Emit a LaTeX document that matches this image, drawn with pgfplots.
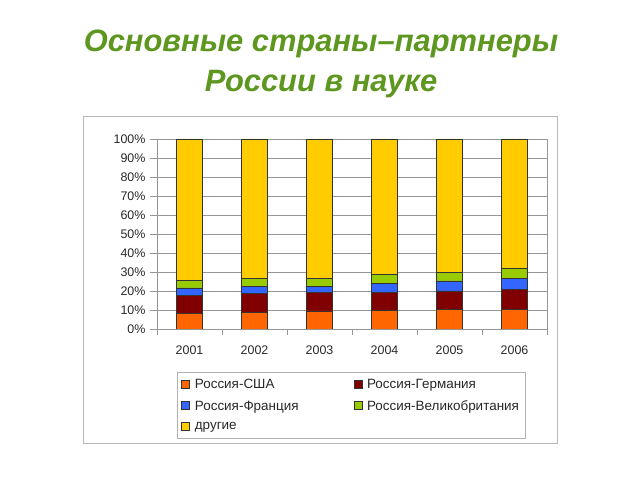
\documentclass[border=0pt]{standalone}
\usepackage{pgfplots}
\pgfplotsset{compat=1.18}
\usepackage{fontspec}
\setmainfont{Liberation Sans}
\definecolor{titlegreen}{RGB}{94,151,32}
\definecolor{cUS}{RGB}{255,102,0}
\definecolor{cDE}{RGB}{128,0,0}
\definecolor{cFR}{RGB}{51,102,255}
\definecolor{cUK}{RGB}{153,204,0}
\definecolor{cOT}{RGB}{255,204,0}
\definecolor{gridgray}{RGB}{150,150,150}
\definecolor{txt}{RGB}{40,40,40}
\begin{document}
\begin{tikzpicture}[x=1bp,y=1bp]
\path (0,0) rectangle (640,480);
\node[anchor=base,text=titlegreen,font=\fontsize{31}{33}\selectfont\bfseries\itshape] at (321,428) {Основные страны–партнеры};
\node[anchor=base,text=titlegreen,font=\fontsize{31}{33}\selectfont\bfseries\itshape] at (321,388) {России в науке};
\draw[gray!55,line width=0.8bp] (83,37) rectangle (557,364);
\begin{axis}[
  at={(157bp,151bp)}, anchor=south west,
  scale only axis, width=390bp, height=190bp,
  ybar stacked, bar width=26bp,
  xmin=-0.5, xmax=5.5, ymin=0, ymax=100,
  xtick={0,...,5},
  xticklabels={2001,2002,2003,2004,2005,2006},
  minor xtick={-0.5,0.5,...,5.5},
  ytick={0,10,...,100},
  yticklabel={\pgfmathprintnumber{\tick}\%},
  /pgf/number format/assume math mode=true,
  ticklabel style={font=\fontsize{12.5}{14}\selectfont, text=txt},
  tick align=outside, tick pos=left,
  major tick length=7bp, minor tick length=6bp,
  major x tick style={draw=none},
  tick style={gridgray, line width=0.6bp},
  axis line style={gridgray, line width=0.8bp},
  ymajorgrids, grid style={gridgray, line width=0.6bp},
  xticklabel style={yshift=-6bp},
  yticklabel style={xshift=-1bp},
  every axis plot/.append style={draw=black!80, line width=0.5bp},
  legend style={at={(0.0513,-0.226)}, anchor=north west, draw=gray!60, line width=0.8bp,
    font=\fontsize{13.5}{15}\selectfont, text=txt, legend columns=2, row sep=6.5bp,
    inner xsep=4bp, inner ysep=5bp,
    /tikz/every odd column/.append style={column sep=3bp},
    /tikz/every even column/.append style={column sep=53bp}},
  legend cell align=left,
  legend image code/.code={\draw[#1, line width=0.5bp, draw=black!80] (0bp,-3bp) rectangle (8bp,5bp);},
]
\addplot[fill=cUS] coordinates {(0,8.1) (1,8.8) (2,9.5) (3,9.8) (4,10.2) (5,10.2)};
\addplot[fill=cDE] coordinates {(0,9.6) (1,9.8) (2,9.6) (3,9.3) (4,9.8) (5,10.7)};
\addplot[fill=cFR] coordinates {(0,3.9) (1,4.0) (2,3.2) (3,4.9) (4,5.3) (5,5.8)};
\addplot[fill=cUK] coordinates {(0,3.8) (1,4.1) (2,4.4) (3,4.8) (4,4.5) (5,5.2)};
\addplot[fill=cOT] coordinates {(0,74.6) (1,73.3) (2,73.3) (3,71.2) (4,70.2) (5,68.1)};
\legend{Россия-США, Россия-Германия, Россия-Франция, Россия-Великобритания, другие}
\end{axis}
\end{tikzpicture}
\end{document}
